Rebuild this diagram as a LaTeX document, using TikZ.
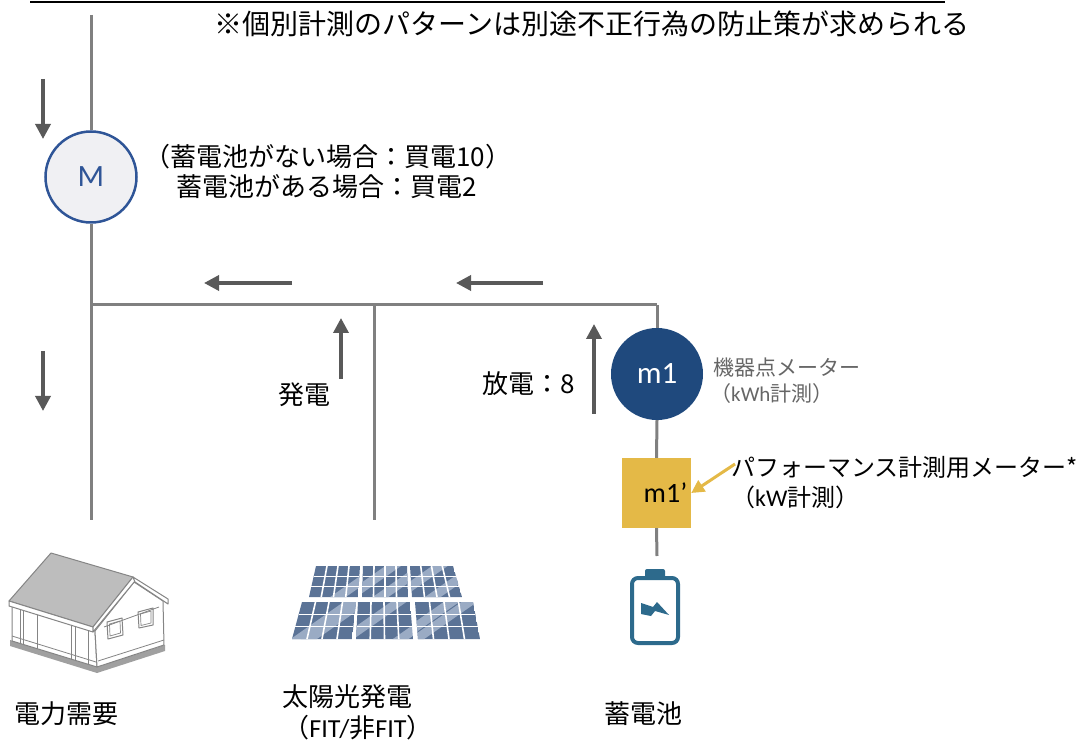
\documentclass[tikz,border=0pt]{standalone}
\usepackage{fontspec}
\setmainfont{Carlito}
\newfontfamily\jp{Noto Sans CJK JP}
\usetikzlibrary{arrows.meta,calc}

\definecolor{wire}{HTML}{808080}
\definecolor{flow}{HTML}{595959}
\definecolor{navy}{HTML}{1F497D}
\definecolor{meterrim}{HTML}{2F5597}
\definecolor{meterfill}{HTML}{F0F0F3}
\definecolor{gold}{HTML}{E4B947}
\definecolor{pvdark}{HTML}{5B7396}
\definecolor{pvlight}{HTML}{9AABC4}
\definecolor{batt}{HTML}{2D6A8C}
\definecolor{roofgray}{HTML}{BDBDBD}
\definecolor{housegray}{HTML}{858585}
\definecolor{basegray}{HTML}{A0A0A0}
\definecolor{notegray}{HTML}{666666}

% one solar module: corners TL, TR, BR, BL, then points on the light reflection bands
\newcommand\pvpanel[5]{%
  \begin{scope}
    \clip #1--#2--#3--#4--cycle;
    \fill[pvdark] #1--#2--#3--#4--cycle;
    \foreach \p in {#5} \draw[pvlight,line width=9pt] \p ++(-50,35) -- ++(100,-70);
  \end{scope}
  \foreach \t in {0.25,0.5,0.75}
    \draw[white,line width=1.6pt] ($#1!\t!#2$) -- ($#4!\t!#3$);
  \foreach \t in {0.333,0.667}
    \draw[white,line width=1.6pt] ($#1!\t!#4$) -- ($#2!\t!#3$);
}

\begin{document}
\begin{tikzpicture}[x=1pt,y=-1pt,
  wireline/.style={draw=wire,line width=3pt},
  flowarrow/.style={draw=flow,line width=3.5pt,-{Triangle[length=15pt,width=15pt]}},
  lbl/.style={font=\jp\fontsize{26}{30}\selectfont,inner sep=0pt},
  note/.style={font=\jp\fontsize{24}{28}\selectfont,inner sep=0pt,anchor=west},
  smallnote/.style={font=\jp\fontsize{21}{25}\selectfont,text=notegray,inner sep=0pt,anchor=west},
  meter/.style={circle,minimum size=91pt,inner sep=0pt},
  housepart/.style={draw=housegray,line width=1pt,line join=round}]

\useasboundingbox (0,0) rectangle (1080,743);

% heading rule and remark
\draw[black,line width=1.5pt] (30,2) -- (945,2);
\node[font=\jp\fontsize{28}{32}\selectfont,inner sep=0pt] (remark) at (592,24)
  {※個別計測のパターンは別途不正行為の防止策が求められる};

% grid meter
\node[meter,draw=meterrim,fill=meterfill,line width=2.5pt,
      font=\fontsize{31}{34}\selectfont,text=meterrim] (M) at (91,177) {M};
\node[lbl,anchor=west] (nobat) at (144,157) {{\jp （蓄電池がない場合：買電}10{\jp ）}};
\node[lbl,anchor=west] (withbat) at (176,187) {{\jp 蓄電池がある場合：買電}2};

% device meter and performance meter
\node[meter,fill=navy,text=white,minimum size=92pt,
      font=\fontsize{31}{34}\selectfont] (m1) at (657,374) {m1};
\node[fill=gold,minimum width=69pt,minimum height=70pt,inner sep=0pt,
      label={[font=\fontsize{28}{30}\selectfont,xshift=9pt]center:m1’}] (m1p) at (656.5,493) {};

\node[smallnote] (devnote) at (713,368) {機器点メーター};
\node[smallnote] (devnote2) at (710,394) {（\fontspec{Carlito}kWh\jp 計測）};
\node[note] (perfnote) at (731,467) {パフォーマンス計測用メーター*};
\node[note] (perfnote2) at (731,497) {（\fontspec{Carlito}kW\jp 計測）};

% wiring
\coordinate (top) at (91,15);
\coordinate (J1) at (91,305);
\coordinate (J2) at (374,305);
\coordinate (J3) at (657,305);
\coordinate (houseEnd) at (91,520);
\coordinate (pvEnd) at (374,520);
\coordinate (batEnd) at (657,556);
\draw[wireline] (top) -- (M.north);
\draw[wireline] (M.south) -- (houseEnd);
\draw[wireline] (J1) -- (J3);
\draw[wireline] (J2) -- (pvEnd);
\draw[wireline] (J3) -- (m1.north);
\draw[wireline] (m1.south) -- (m1p.north);
\draw[wireline] (m1p.south) -- (batEnd);

% power flow arrows
\coordinate (f1a) at (43,79);   \coordinate (f1b) at (43,139);
\coordinate (f2a) at (43,351);  \coordinate (f2b) at (43,411);
\coordinate (f3a) at (292,283); \coordinate (f3b) at (204,283);
\coordinate (f4a) at (543,283); \coordinate (f4b) at (456,283);
\coordinate (f5a) at (341,379); \coordinate (f5b) at (341,318);
\coordinate (f6a) at (594,414); \coordinate (f6b) at (594,324);
\draw[flowarrow] (f1a) -- (f1b);
\draw[flowarrow] (f2a) -- (f2b);
\draw[flowarrow] (f3a) -- (f3b);
\draw[flowarrow] (f4a) -- (f4b);
\draw[flowarrow] (f5a) -- (f5b);
\draw[flowarrow] (f6a) -- (f6b);

\node[lbl] (gen) at (304,395) {発電};
\node[lbl,anchor=west] (dis) at (482,384) {{\jp 放電：}8};

% arrow pointing at the performance meter
\coordinate (pa) at (735,464);
\draw[draw=gold,line width=3pt,-{Triangle[length=13pt,width=13pt]}] (pa) -- (m1p.east);

% house
\fill[basegray] (10,640) -- (97,667) -- (165,645) -- (165,651) -- (97,673) -- (10,646) -- cycle;
\filldraw[housepart,fill=white] (12,605) -- (95,631) -- (97,667) -- (12,641) -- cycle;
\filldraw[housepart,fill=white] (134,582) -- (163,601) -- (164,645) -- (97,667) -- (95,631) -- cycle;
\foreach \x/\ya/\yb in {20/607.5/643.5, 23/608.4/644.4, 37/612.8/648.8, 71/623.5/659.5, 75/624.7/660.7, 88/628.8/664.5}
  \draw[housepart,line width=0.8pt] (\x,\ya) -- (\x,\yb);
\draw[housepart,line width=0.8pt] (12,636) -- (96,662);
\draw[housepart,line width=0.8pt] (98,661) -- (164,640);
\draw[housepart,line width=0.8pt] (104,627) -- (159,607);
% windows on the gable wall
\draw[housepart] (107,622) -- (122,618) -- (123,635) -- (108,639) -- cycle;
\draw[housepart,line width=0.7pt] (109.5,624) -- (120,621) -- (120.5,633) -- (110,636) -- cycle;
\draw[housepart] (138,612) -- (153,608) -- (153,625) -- (139,628) -- cycle;
\draw[housepart,line width=0.7pt] (140.5,614) -- (151,611) -- (151,623) -- (141,625.5) -- cycle;
% roof
\filldraw[housepart,fill=roofgray] (51,553) -- (133,577) -- (93,627) -- (9,601) -- cycle;
\filldraw[housepart,fill=white] (9,601) -- (93,627) -- (93,632) -- (9,606) -- cycle;
\filldraw[housepart,fill=white] (133,577) -- (93,627) -- (93,632) -- (135,581) -- cycle;
\filldraw[housepart,fill=white] (133,577) -- (168,599) -- (168,604) -- (135,582) -- cycle;

% solar array
\pvpanel{(316,566)}{(360,566)}{(358,597)}{(309,597)}{(348,590)}
\pvpanel{(363,566)}{(407,566)}{(408,597)}{(362,597)}{(376,578),(392,589)}
\pvpanel{(410,566)}{(453,566)}{(462,597)}{(412,597)}{(427,575),(450,585)}
\pvpanel{(302,602)}{(356,602)}{(352,639)}{(292,639)}{(330,617),(322,630)}
\pvpanel{(358,602)}{(410,602)}{(413,639)}{(356,639)}{(380,615),(405,636)}
\pvpanel{(415,602)}{(473,602)}{(480,639)}{(418,639)}{(430,617),(455,612)}

% battery
\fill[batt,rounded corners=2pt] (645,569) rectangle (665,580);
\draw[batt,line width=4pt,rounded corners=6pt,fill=white] (632,578) rectangle (678,643);
\fill[batt] (641,603) -- (653,607) -- (657,602) -- (669,615) -- (655,611) -- (651,616) -- (641,614) -- cycle;

% bottom captions
\node[lbl] (demand) at (67,714) {電力需要};
\node[lbl] (pv) at (347,697) {太陽光発電};
\node[lbl] (pvfit) at (358,728) {（\fontspec{Carlito}FIT/\jp 非\fontspec{Carlito}FIT\jp ）};
\node[lbl] (bat) at (643,714) {蓄電池};
\end{tikzpicture}
\end{document}
